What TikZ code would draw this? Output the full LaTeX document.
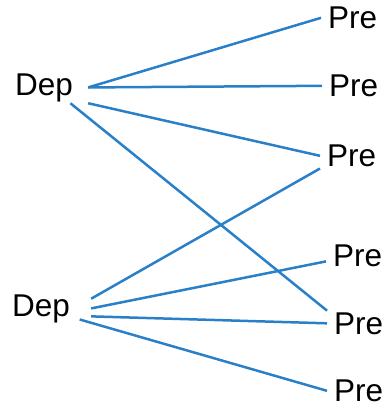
\documentclass[tikz,border=0pt]{standalone}
\usepackage{fontspec}
\setmainfont{Liberation Sans}
\definecolor{linkblue}{RGB}{41,128,200}

\begin{document}
\begin{tikzpicture}[x=1pt,y=-1pt,
	word/.style={font=\fontsize{31.5}{31.5}\selectfont, inner ysep=1.5pt, anchor=base west},
	dep/.style={word, inner xsep=15pt},
	pre/.style={word, inner xsep=7pt},
	link/.style={draw=linkblue, line width=2.5pt}]
	\useasboundingbox (0,0) rectangle (388,408);
	
	% left side
	\node[dep] (dep1) at (0,95) {Dep};
	\node[dep, inner xsep=21pt] (dep2) at (-9,316) {Dep};
	
	% right side
	\node[pre] (pre1) at (321,28.5) {Pre};
	\node[pre] (pre2) at (322,96.5) {Pre};
	\node[pre] (pre3) at (320,166.5) {Pre};
	\node[pre] (pre4) at (326,266.5) {Pre};
	\node[pre] (pre5) at (327,334) {Pre};
	\node[pre] (pre6) at (327,401.5) {Pre};
	
	% links
	\draw[link] (dep1.east) -- (pre1.west);
	\draw[link] (dep1.east) -- (pre2.west);
	\draw[link] (dep1.south east) -- (pre3.west);
	\draw[link] (dep1.-31) -- (pre5.north west);
	\draw[link] (dep2.11) -- (pre3.south west);
	\draw[link] (dep2.east) -- (pre4.190);
	\draw[link] (dep2.-9) -- (pre5.west);
	\draw[link, shorten <=-12pt] (dep2.-16) -- (pre6.west);
\end{tikzpicture}
\end{document}
